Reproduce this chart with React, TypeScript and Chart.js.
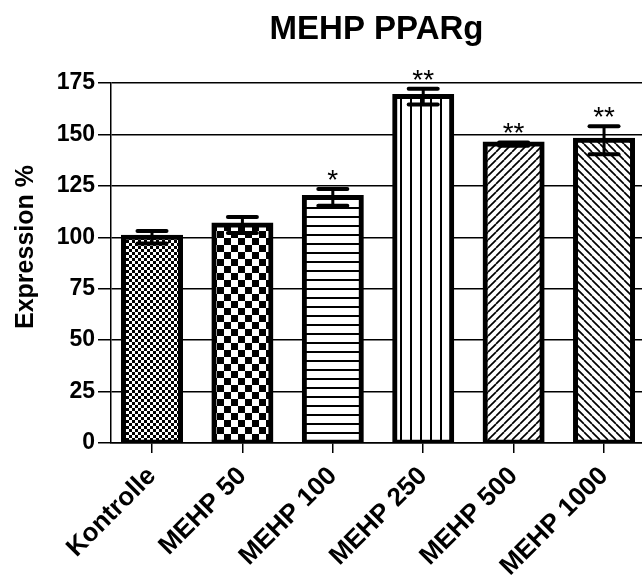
import React, { useEffect, useRef } from 'react';
import { Chart, registerables } from 'chart.js';

Chart.register(...registerables);

const categories = ['Kontrolle', 'MEHP 50', 'MEHP 100', 'MEHP 250', 'MEHP 500', 'MEHP 1000'];
const means = [100, 106, 119.4, 168.4, 145.3, 147.2];
const errors = [3, 3.9, 4.1, 3.8, 0.8, 6.8];
const significance = ['', '', '*', '**', '**', '**'];
const patternKinds = ['fineChecker', 'coarseChecker', 'hLines', 'vLines', 'diagUp', 'diagDown'];
const chartTitle = 'MEHP PPARg';
const yTitle = 'Expression %';
const yMin = 0;
const yMax = 175;
const yStep = 25;

const FONT = 'Arial, "Liberation Sans", sans-serif';

function makePattern(ctx: CanvasRenderingContext2D, kind: string): CanvasPattern | string {
  const c = document.createElement('canvas');
  let s = 8;
  if (kind === 'fineChecker') s = 6;
  if (kind === 'coarseChecker') s = 14;
  if (kind === 'hLines') s = 9;
  if (kind === 'vLines') s = 10;
  c.width = s;
  c.height = s;
  const p = c.getContext('2d')!;
  p.fillStyle = '#fff';
  p.fillRect(0, 0, s, s);
  p.fillStyle = '#000';
  p.strokeStyle = '#000';
  if (kind === 'fineChecker' || kind === 'coarseChecker') {
    const h = s / 2;
    p.fillRect(0, 0, h, h);
    p.fillRect(h, h, h, h);
  } else if (kind === 'hLines') {
    p.fillRect(0, 0, s, 2);
  } else if (kind === 'vLines') {
    p.fillRect(0, 0, 2, s);
  } else if (kind === 'diagUp') {
    p.lineWidth = 1.7;
    for (const o of [-s, 0, s]) {
      p.beginPath();
      p.moveTo(o, s);
      p.lineTo(o + s, 0);
      p.stroke();
    }
  } else if (kind === 'diagDown') {
    p.lineWidth = 1.7;
    for (const o of [-s, 0, s]) {
      p.beginPath();
      p.moveTo(o, 0);
      p.lineTo(o + s, s);
      p.stroke();
    }
  }
  return ctx.createPattern(c, 'repeat') || '#fff';
}

const errorBarPlugin = {
  id: 'errorBarsAndMarks',
  afterDatasetsDraw(chart: any) {
    const meta = chart.getDatasetMeta(0);
    const y = chart.scales.y;
    const ctx: CanvasRenderingContext2D = chart.ctx;
    ctx.save();
    ctx.strokeStyle = '#000';
    ctx.fillStyle = '#000';
    meta.data.forEach((bar: any, i: number) => {
      const x = bar.x;
      const top = y.getPixelForValue(means[i] + errors[i]);
      const bot = y.getPixelForValue(means[i] - errors[i]);
      ctx.lineWidth = 3;
      ctx.lineCap = 'butt';
      ctx.beginPath();
      ctx.moveTo(x, top);
      ctx.lineTo(x, bot);
      ctx.stroke();
      ctx.lineWidth = 4;
      ctx.lineCap = 'round';
      for (const yy of [top, bot]) {
        ctx.beginPath();
        ctx.moveTo(x - 14.5, yy);
        ctx.lineTo(x + 14.5, yy);
        ctx.stroke();
      }
      if (significance[i]) {
        ctx.font = `28px ${FONT}`;
        ctx.textAlign = 'center';
        ctx.textBaseline = 'alphabetic';
        ctx.fillText(significance[i], x, top);
      }
    });
    // y axis title
    ctx.font = `bold 25px ${FONT}`;
    ctx.textAlign = 'center';
    ctx.textBaseline = 'alphabetic';
    ctx.translate(33, 247);
    ctx.rotate(-Math.PI / 2);
    ctx.fillText(yTitle, 0, 0);
    ctx.restore();
  },
};

export default function App() {
  const ref = useRef<HTMLCanvasElement | null>(null);
  useEffect(() => {
    const canvas = ref.current!;
    const ctx = canvas.getContext('2d')!;
    const patterns = patternKinds.map((k) => makePattern(ctx, k));
    const chart = new Chart(canvas, {
      type: 'bar',
      data: {
        datasets: [
          {
            data: means.map((v, i) => ({ x: i, y: v })),
            backgroundColor: patterns as any,
            borderColor: '#000',
            borderWidth: 5,
            borderSkipped: false,
            barThickness: 57,
            inflateAmount: 2.5,
          } as any,
        ],
      },
      options: {
        animation: false,
        responsive: false,
        layout: { padding: 0 },
        plugins: {
          legend: { display: false },
          tooltip: { enabled: false },
          title: {
            display: true,
            fullSize: false,
            text: chartTitle,
            color: '#000',
            font: { family: FONT, size: 33, weight: 'bold' },
            padding: { top: 10, bottom: 33.4 },
          },
        },
        scales: {
          x: {
            type: 'linear',
            min: -0.4535,
            max: 5.42,
            offset: false,
            grid: {
              display: true,
              offset: false,
              drawOnChartArea: false,
              drawTicks: true,
              tickLength: 10,
              color: '#000',
              lineWidth: 1.5,
            },
            border: { display: true, color: '#000', width: 1.5 },
            ticks: {
              stepSize: 1,
              includeBounds: false,
              autoSkip: false,
              minRotation: 45,
              maxRotation: 45,
              padding: 8,
              color: '#000',
              font: { family: FONT, size: 26, weight: 'bold' },
              callback: (v: any) => (Number.isInteger(v) ? categories[v] : ''),
            },
            afterFit: (scale: any) => {
              scale.height = 136;
              scale.paddingLeft = 0;
              scale.paddingRight = 0;
            },
          },
          y: {
            min: yMin,
            max: yMax,
            grid: {
              color: '#000',
              lineWidth: 1.5,
              tickLength: 13,
            },
            border: { display: true, color: '#000', width: 1.5 },
            ticks: {
              stepSize: yStep,
              padding: 3,
              color: '#000',
              font: { family: FONT, size: 23, weight: 'bold' },
            },
            afterFit: (scale: any) => {
              scale.width = 111;
            },
          },
        },
      } as any,
      plugins: [errorBarPlugin],
    });
    return () => chart.destroy();
  }, []);
  return (
    <div style={{ position: 'fixed', left: 0, top: 0, width: 642, height: 579, overflow: 'hidden', background: '#fff' }}>
      <canvas ref={ref} width={642} height={579} style={{ display: 'block' }} />
    </div>
  );
}
